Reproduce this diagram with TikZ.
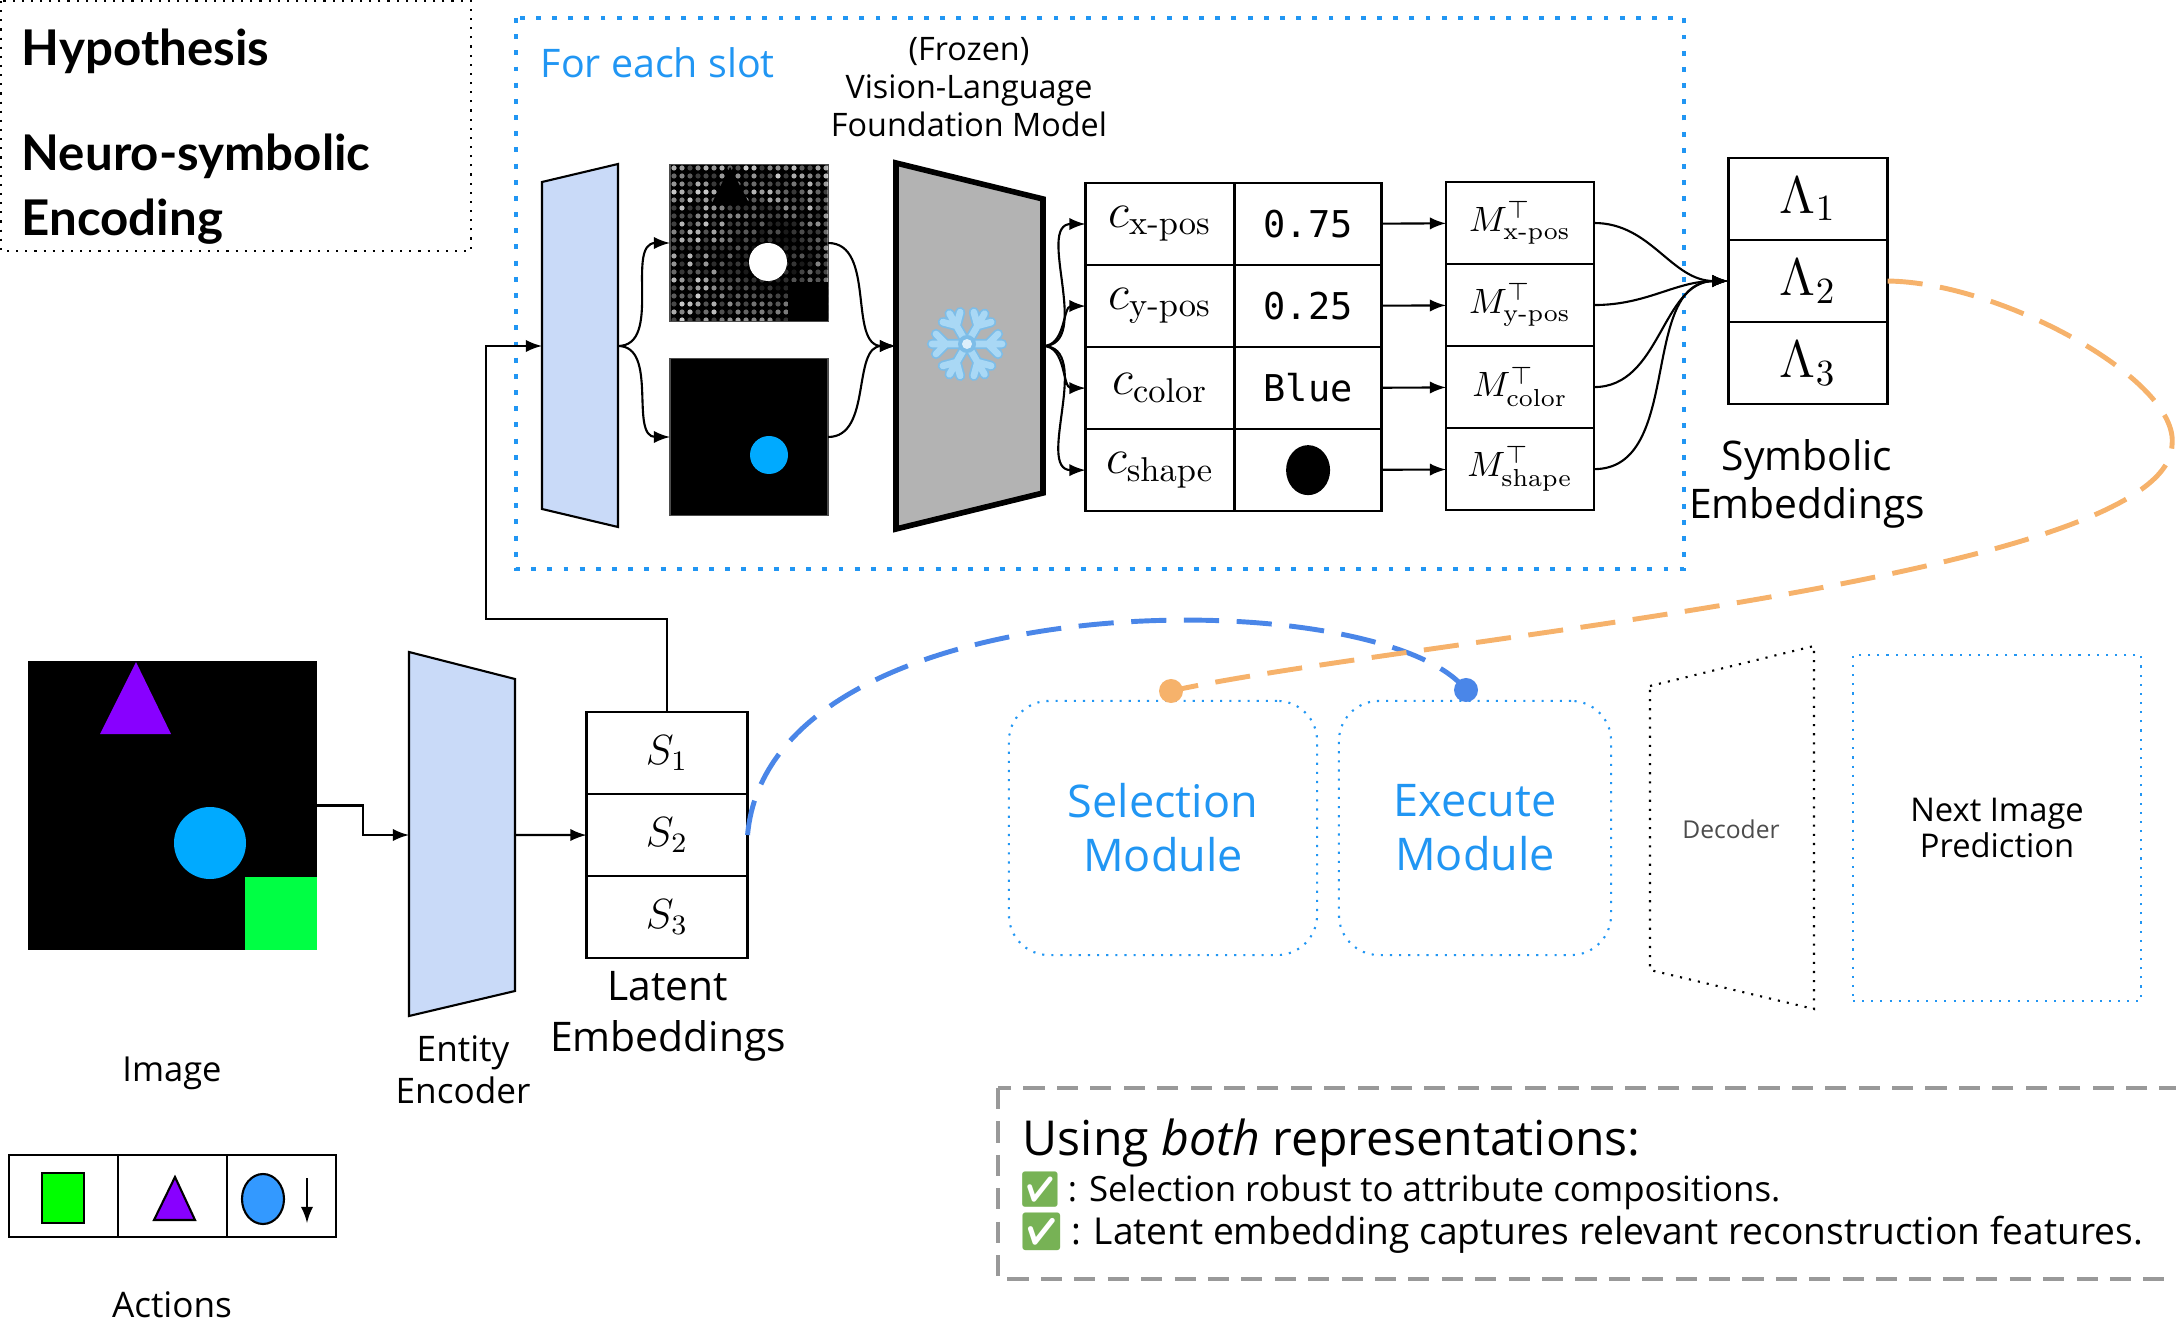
\documentclass[tikz,border=0pt]{standalone}
\usepackage{fix-cm}
\usepackage{amsmath}
\usepackage[no-math]{fontspec}
\setmainfont{Open Sans}
\newfontfamily\lmr{Latin Modern Roman}
\newfontfamily\hyfont{Lato}
\newfontfamily\vmono{DejaVu Sans Mono}
\newfontfamily\emoji{Noto Emoji}
\usetikzlibrary{positioning}

\definecolor{encblue}{HTML}{C9DAF8}
\definecolor{vlmgray}{HTML}{B3B3B3}
\definecolor{slotblue}{HTML}{2196F3}
\definecolor{latblue}{HTML}{4A86E8}
\definecolor{symorange}{HTML}{F6B26B}
\definecolor{notegray}{HTML}{999999}
\definecolor{objpurple}{HTML}{8800FF}
\definecolor{objblue}{HTML}{00AAFF}
\definecolor{objgreen}{HTML}{00FF44}
\definecolor{actblue}{HTML}{3399FF}
\definecolor{actgreen}{HTML}{00FF00}
\definecolor{flake}{HTML}{A9D8F5}
\definecolor{flakeedge}{HTML}{7DBDE8}
\definecolor{okgreen}{HTML}{77B255}

\newcommand\okmark{{\color{okgreen}\emoji ✅}}
\newcommand\sub[1]{\text{\lmr #1}}

\tikzset{>=latex}
\tikzset{
  cell/.style={draw, line width=0.7pt, inner sep=0pt, outer sep=0pt, minimum height=0.82cm},
  namecell/.style={cell, minimum width=1.49cm, font=\fontsize{14}{16}\selectfont},
  valcell/.style={cell, minimum width=1.47cm, font=\vmono\fontsize{10.5}{12}\selectfont},
  mcell/.style={cell, minimum width=1.48cm, font=\fontsize{10}{12}\selectfont},
  lamcell/.style={cell, minimum width=1.59cm, font=\fontsize{15}{18}\selectfont},
  slotcell/.style={cell, minimum width=1.61cm, font=\fontsize{12}{14}\selectfont},
  actcell/.style={cell, minimum width=1.09cm},
  encoder/.style={draw, line width=0.6pt, fill=encblue},
  picframe/.style={draw=black!70, line width=0.4pt, fill=black, inner sep=0pt, outer sep=0pt},
  modbox/.style={draw=slotblue, dotted, line width=0.6pt, rounded corners=0.4cm, align=center,
    text=slotblue, font=\fontsize{12.8}{15.4}\selectfont},
  latdash/.style={latblue, line width=1.4pt, dash pattern=on 10pt off 5pt},
  symdash/.style={symorange, line width=1.4pt, dash pattern=on 10pt off 5pt},
  enddot/.style={circle, inner sep=0pt, minimum size=0.24cm},
  caption/.style={align=center, font=\fontsize{11.6}{13.7}\selectfont},
  hyp/.style={anchor=base west, font=\hyfont\bfseries\fontsize{14}{16}\selectfont},
  flakearm/.style={line cap=round, line join=round},
}

\begin{document}
\begin{tikzpicture}[x=0.01cm, y=-0.01cm, line width=0.6pt]
  \useasboundingbox (0,0) rectangle (2176,1325);

  % hypothesis header
  \draw[dotted] (1,1) rectangle (471,251);
  \node[hyp] (hyp1) at (9,66) {Hypothesis};
  \node[hyp] (hyp2) at (9,171) {Neuro-symbolic};
  \node[hyp] (hyp3) at (9,236) {Encoding};

  % per-slot block
  \draw[slotblue, line width=1.4pt, dash pattern=on 1.4pt off 3.2pt] (516,18) rectangle (1684,569);
  \node[anchor=base west, text=slotblue, font=\fontsize{11.2}{13}\selectfont] (slotlbl) at (528,78) {For each slot};
  \node[align=center, font=\fontsize{9.2}{10.7}\selectfont] (vlmlbl) at (969,87) {(Frozen)\\Vision-Language\\Foundation Model};

  \draw[encoder] (542,182) -- (618,164) -- (618,527) -- (542,509) -- cycle;
  \coordinate (slot-in) at (542,346);
  \coordinate (slot-out) at (618,346);

  % attention map
  \node[picframe, minimum width=1.58cm, minimum height=1.57cm] (attn) at (749,243) {};
  \begin{scope}
    \clip (670,164) rectangle (828,321);
    \pgfmathsetseed{17}
    \foreach \i in {0,...,19}
      \foreach \j in {0,...,19} {
        \pgfmathsetmacro\px{674+8*\i}
        \pgfmathsetmacro\py{168+8*\j}
        \pgfmathsetmacro\fade{min(1,veclen(\px-768,\py-262)/75)}
        \pgfmathsetmacro\op{(0.2+0.6*rnd)*\fade}
        \fill[white, opacity=\op] (\px,\py) circle[radius=2.6];
      }
    \fill[black] (712,203) -- (730,167) -- (749,203) -- cycle;
    \fill[white] (768,262) circle[radius=19];
    \fill[black] (788,282) rectangle (828,321);
  \end{scope}
  % slot mask
  \node[picframe, minimum width=1.58cm, minimum height=1.57cm] (mask) at (749,437) {};
  \fill[objblue] (769,455) circle[radius=19];

  % vision-language model
  \draw[line width=1.6pt, fill=vlmgray] (896,163) -- (1043,199) -- (1043,493) -- (896,529) -- cycle;
  \coordinate (vlm-in) at (896,346);
  \coordinate (vlm-out) at (1043,346);
  % frozen mark
  \foreach \a in {0,60,...,300} {
    \draw[flakearm, flakeedge, line width=2.9pt, shift={(967,344)}, rotate=\a]
      (0,0) -- (35,0) (21,0) -- (31,10) (21,0) -- (31,-10);
    \draw[flakearm, flake, line width=1.9pt, shift={(967,344)}, rotate=\a]
      (0,0) -- (35,0) (21,0) -- (31,10) (21,0) -- (31,-10);
  }
  \fill[flakeedge] (967,344) circle[radius=9];
  \fill[white!60!flake] (967,344) circle[radius=5];

  % concept table
  \node[namecell] (a1) at (1160,224) {$c_{\sub{x-pos}}$};
  \node[namecell, below=0pt of a1] (a2) {$c_{\sub{y-pos}}$};
  \node[namecell, below=0pt of a2] (a3) {$c_{\sub{color}}$};
  \node[namecell, below=0pt of a3] (a4) {$c_{\sub{shape}}$};
  \node[valcell, right=0pt of a1] (v1) {0.75};
  \node[valcell, right=0pt of a2] (v2) {0.25};
  \node[valcell, right=0pt of a3] (v3) {Blue};
  \node[valcell, right=0pt of a4] (v4) {};
  \fill (v4.center) ellipse[x radius=22, y radius=25];

  \node[mcell] (m1) at (1520,223) {$M^{\top}_{\sub{x-pos}}$};
  \node[mcell, below=0pt of m1] (m2) {$M^{\top}_{\sub{y-pos}}$};
  \node[mcell, below=0pt of m2] (m3) {$M^{\top}_{\sub{color}}$};
  \node[mcell, below=0pt of m3] (m4) {$M^{\top}_{\sub{shape}}$};

  \node[lamcell] (lam1) at (1808,199) {$\Lambda_1$};
  \node[lamcell, below=0pt of lam1] (lam2) {$\Lambda_2$};
  \node[lamcell, below=0pt of lam2] (lam3) {$\Lambda_3$};
  \node[caption] (symlbl) at (1807,484) {Symbolic\\Embeddings};

  \draw[->] (slot-out) to[out=0,in=180] (attn.west);
  \draw[->] (slot-out) to[out=0,in=180] (mask.west);
  \draw[->] (attn.east) to[out=0,in=180] (vlm-in);
  \draw[->] (mask.east) to[out=0,in=180] (vlm-in);
  \foreach \r in {1,...,4} {
    \draw[->] (vlm-out) to[out=0,in=180] (a\r.west);
    \draw[->] (v\r) -- (m\r);
    \draw[->] (m\r.east) to[out=0,in=180] (lam2.west);
  }

  % input image and entity encoder
  \node[picframe, draw=none, minimum size=2.89cm] (scene) at (172.5,805.5) {};
  \fill[objpurple] (100,734) -- (136,662) -- (171,734) -- cycle;
  \fill[objblue] (210,843) circle[radius=36];
  \fill[objgreen] (245,877) rectangle (317,950);
  \node[font=\fontsize{9.8}{12}\selectfont] (imglbl) at (172,1073) {Image};

  \draw[encoder] (409,652) -- (515,679) -- (515,991) -- (409,1016) -- cycle;
  \coordinate (enc-in) at (409,835);
  \coordinate (enc-out) at (515,835);
  \node[align=center, font=\fontsize{10}{12}\selectfont] (enclbl) at (463,1070) {Entity\\Encoder};

  \node[slotcell] (s1) at (667,753) {$S_1$};
  \node[slotcell, below=0pt of s1] (s2) {$S_2$};
  \node[slotcell, below=0pt of s2] (s3) {$S_3$};
  \node[align=center, font=\fontsize{11.6}{14.5}\selectfont] (latlbl) at (668,1016) {Latent\\Embeddings};

  \draw[->] (scene.east) -- ++(46,0) |- (enc-in);
  \draw[->] (enc-out) -- (s2.west);
  \coordinate (bend) at (486,619);
  \draw[->] (s1.north) |- (bend) |- (slot-in);

  % actions
  \node[actcell] (act1) at (63.5,1196) {};
  \node[actcell, right=0pt of act1] (act2) {};
  \node[actcell, right=0pt of act2] (act3) {};
  \draw[fill=actgreen] (42,1173) rectangle (84,1223);
  \draw[fill=objpurple] (154,1220) -- (175,1177) -- (195,1220) -- cycle;
  \draw[fill=actblue] (263,1199) ellipse[x radius=21, y radius=25];
  \draw[->] (307,1178) -- (307,1223);
  \node[font=\fontsize{10}{12}\selectfont] (actlbl) at (172,1305) {Actions};

  % modules, decoder, prediction
  \node[modbox, minimum width=3.08cm, minimum height=2.54cm] (selmod) at (1163,828) {Selection\\Module};
  \node[modbox, minimum width=2.72cm, minimum height=2.54cm] (execmod) at (1475,828) {Execute\\Module};
  \draw[dotted] (1650,686) -- (1814,646) -- (1814,1009) -- (1650,970) -- cycle;
  \node[text=black!70, font=\fontsize{7}{8}\selectfont] (declbl) at (1731,829) {Decoder};
  \node[draw=slotblue, dotted, minimum width=2.88cm, minimum height=3.46cm, align=center,
    font=\fontsize{9.3}{10.4}\selectfont] (nextimg) at (1997,828) {Next Image\\Prediction};

  % slot and symbol routes
  \node[enddot, fill=latblue] (execdot) at (1466,690) {};
  \node[enddot, fill=symorange] (seldot) at (1171,691) {};
  \draw[latdash] (s2.east) .. controls (770,580) and (1380,580) .. (execdot.center);
  \draw[symdash] (lam2.east) .. controls (2000,282) and (2180,380) .. (2172,445)
    .. controls (2168,580) and (1400,640) .. (seldot.center);

  % note
  \draw[notegray, line width=1.1pt, dash pattern=on 6pt off 3.5pt] (998,1088) rectangle (2200,1279);
  \node[anchor=base west, font=\fontsize{13.7}{15}\selectfont] (note1) at (1010,1155) {Using \emph{both} representations:};
  \node[anchor=base west, font=\fontsize{9.9}{12}\selectfont] (note2) at (1005,1201) {\okmark\,: Selection robust to attribute compositions.};
  \node[anchor=base west, font=\fontsize{10.55}{12}\selectfont] (note3) at (1005,1244) {\okmark\,: Latent embedding captures relevant reconstruction features.};
\end{tikzpicture}
\end{document}
